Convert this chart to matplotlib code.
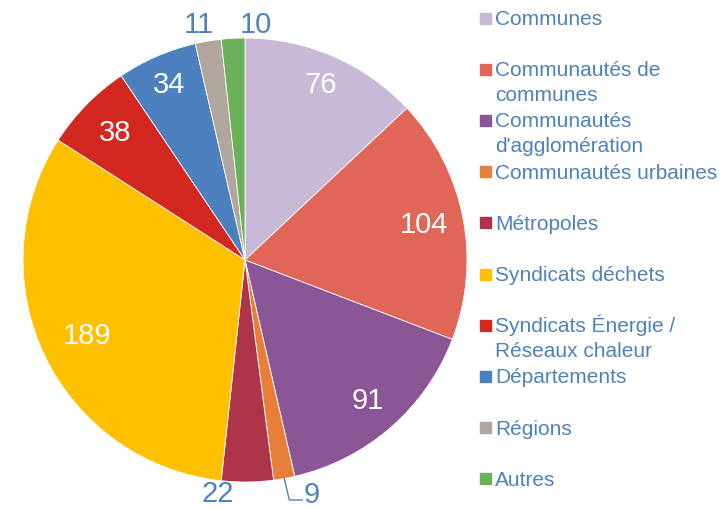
import numpy as np
import matplotlib
matplotlib.use("Agg")
import matplotlib.pyplot as plt
from matplotlib.patches import Rectangle

categories = ["Communes", "Communautés de\ncommunes", "Communautés\nd'agglomération",
              "Communautés urbaines", "Métropoles", "Syndicats déchets",
              "Syndicats Énergie /\nRéseaux chaleur", "Départements", "Régions", "Autres"]
values = [76, 104, 91, 9, 22, 189, 38, 34, 11, 10]
colors = ["#C8B9D6", "#E06658", "#8B5696", "#E77E3A", "#AE344A", "#FFC000",
          "#D2281F", "#4D80BF", "#B0A69E", "#6CB058"]

plt.rcParams['font.family'] = ['Liberation Sans', 'DejaVu Sans']
W, H = 725, 509
fig = plt.figure(figsize=(W/100, H/100), dpi=100)
R = 222
cx, cy = 245, 260
ax = fig.add_axes([(cx - R)/W, (H - cy - R)/H, 2*R/W, 2*R/H])
ax.axis('off')

wedges, _ = ax.pie(values, colors=colors, startangle=90, counterclock=False, radius=1,
                   wedgeprops=dict(edgecolor='white', linewidth=0.6))
ax.set_xlim(-1, 1); ax.set_ylim(-1, 1)
ax.set_aspect('equal')

txtcol = "#4F81BD"
# label placement: (distance, angle offset in degrees, inside?)
place = {0: (0.86, 0, True), 1: (0.82, 0, True), 2: (0.84, 0, True), 3: (1.10, 5.7, False),
         4: (1.06, -7.3, False), 5: (0.79, 0, True), 6: (0.82, 0, True), 7: (0.86, 0, True),
         8: (1.08, 1.6, False), 9: (1.06, -5.7, False)}
for i, w in enumerate(wedges):
    mid = 0.5 * (w.theta1 + w.theta2)
    d, off, inside = place[i]
    a = np.deg2rad(mid + off)
    x, y = d*np.cos(a), d*np.sin(a)
    ax.text(x, y, str(values[i]), ha='center', va='center', fontsize=21,
            color='white' if inside else txtcol, clip_on=False)
    if i == 3:
        am = np.deg2rad(mid)
        x0, y0 = 1.0*np.cos(am), 1.0*np.sin(am)
        ax.plot([x0, x0 + 0.023, x0 + 0.081], [y0, -1.081, -1.081],
                color=txtcol, lw=1.0, clip_on=False)

# legend
for i, (lab, c) in enumerate(zip(categories, colors)):
    yc = 18 + i*51.2
    fig.patches.append(Rectangle((480/W, 1 - (yc + 5.5)/H), 11/W, 11/H, color=c,
                                 transform=fig.transFigure, figure=fig))
    for j, line in enumerate(lab.split('\n')):
        fig.text(495/W, 1 - (yc + 7 + j*24.5)/H, line, ha='left', va='baseline',
                 fontsize=15, color=txtcol)

fig.savefig("out.png", dpi=100)
